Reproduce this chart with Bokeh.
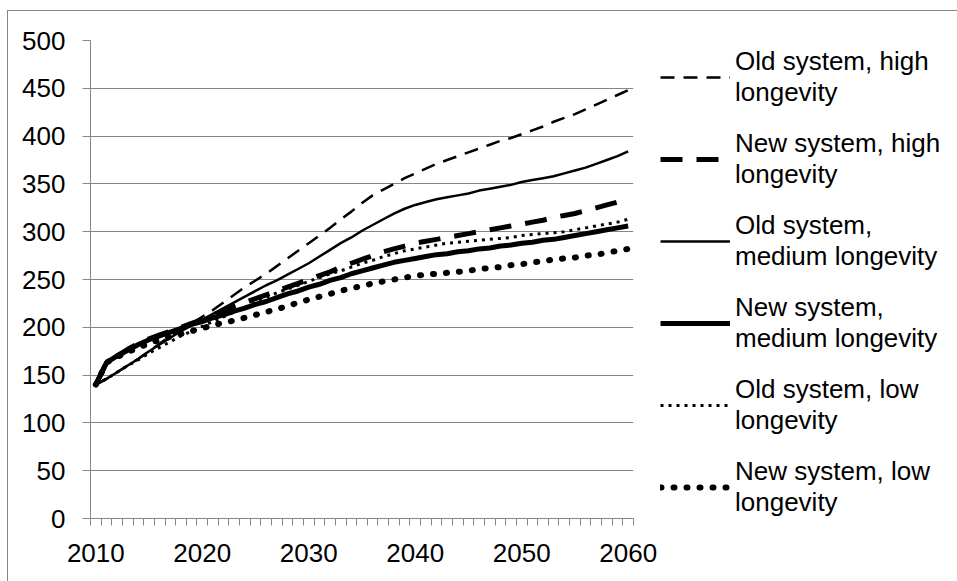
from bokeh.plotting import figure
from bokeh.layouts import row
from bokeh.models import Range1d, FixedTicker, Legend, LegendItem, ColumnDataSource
from bokeh.embed import file_html
from bokeh.resources import INLINE

years = list(range(2010, 2061))

old_high = [140, 146, 153, 160, 167, 175, 183, 191, 198, 204, 211, 218, 226, 234, 242, 249, 256, 264, 272, 280,
            288, 296, 304, 313, 321, 330, 338, 344, 350, 356, 361, 366, 371, 375, 379, 383, 387, 391, 395, 398,
            402, 406, 410, 415, 419, 423, 428, 433, 438, 443, 448]
new_high = [140, 163, 170, 177, 183, 188, 192, 196, 200, 204, 208, 213, 217, 222, 226, 230, 234, 238, 242, 246,
            250, 254, 258, 263, 267, 271, 275, 279, 282, 285, 288, 290, 292, 294, 296, 298, 300, 302, 304, 306,
            308, 310, 312, 315, 317, 319, 322, 325, 328, 331, 333]
old_medium = [140, 146, 153, 160, 167, 175, 182, 189, 196, 202, 208, 214, 220, 226, 232, 238, 244, 249, 255, 261,
              267, 274, 281, 288, 294, 301, 307, 313, 319, 324, 328, 331, 334, 336, 338, 340, 343, 345, 347, 349,
              352, 354, 356, 358, 361, 364, 367, 371, 375, 379, 384]
new_medium = [140, 163, 170, 176, 182, 187, 191, 195, 199, 203, 206, 210, 213, 217, 220, 224, 227, 231, 235, 238,
              242, 245, 249, 252, 256, 259, 262, 265, 268, 270, 272, 274, 276, 277, 279, 280, 282, 283, 285, 286,
              288, 289, 291, 292, 294, 296, 298, 300, 302, 304, 306]
old_low = [140, 146, 153, 160, 166, 173, 179, 185, 191, 196, 201, 206, 211, 216, 221, 226, 231, 236, 240, 244,
           248, 252, 256, 259, 263, 267, 270, 274, 277, 280, 282, 284, 286, 288, 289, 290, 291, 292, 293, 294,
           296, 297, 298, 299, 300, 302, 304, 306, 308, 310, 313]
new_low = [140, 163, 169, 174, 179, 183, 187, 190, 193, 196, 199, 202, 205, 207, 210, 213, 216, 219, 222, 226,
           229, 232, 235, 238, 241, 243, 246, 248, 250, 252, 254, 255, 256, 257, 258, 259, 261, 262, 263, 265,
           266, 268, 269, 271, 272, 273, 275, 276, 278, 280, 282]

labels = ["Old system, high\nlongevity", "New system, high\nlongevity", "Old system,\nmedium longevity",
          "New system,\nmedium longevity", "Old system, low\nlongevity", "New system, low\nlongevity"]
x_tick_values = [2010, 2020, 2030, 2040, 2050, 2060]
y_tick_values = [0, 50, 100, 150, 200, 250, 300, 350, 400, 450, 500]

GRID = "#868686"
FONT = "Liberation Sans"

p = figure(width=650, height=570, x_range=Range1d(2009.5, 2060.5), y_range=Range1d(0, 500),
           output_backend="svg", toolbar_location=None,
           min_border_left=82, min_border_right=25, min_border_top=29, min_border_bottom=63)
p.outline_line_color = None
p.background_fill_color = "white"
p.border_fill_color = "white"

p.xgrid.grid_line_color = None
p.ygrid.grid_line_color = GRID
p.ygrid.grid_line_width = 1
p.ygrid.ticker = FixedTicker(ticks=y_tick_values)

p.xaxis.ticker = FixedTicker(ticks=x_tick_values, minor_ticks=[y - 0.5 for y in years] + [2060.5])
p.xaxis.major_tick_out = 0
p.xaxis.major_tick_in = 0
p.xaxis.minor_tick_out = 7
p.xaxis.minor_tick_in = 0
p.xaxis.minor_tick_line_color = GRID
p.xaxis.axis_line_color = GRID
p.xaxis.major_label_standoff = 18

p.yaxis.ticker = FixedTicker(ticks=y_tick_values, minor_ticks=[])
p.yaxis.major_tick_out = 8
p.yaxis.major_tick_in = 0
p.yaxis.major_tick_line_color = GRID
p.yaxis.axis_line_color = GRID
p.yaxis.major_label_standoff = 17

for ax in (p.xaxis[0], p.yaxis[0]):
    ax.major_label_text_font = FONT
    ax.major_label_text_font_size = "26px"
    ax.major_label_text_color = "black"

src = ColumnDataSource(dict(year=years, old_high=old_high, new_high=new_high, old_medium=old_medium,
                            new_medium=new_medium, old_low=old_low, new_low=new_low))

styles = [
    ("old_high", dict(line_width=2.5, line_dash="14 9")),
    ("new_high", dict(line_width=5, line_dash="22 14")),
    ("old_medium", dict(line_width=2.5)),
    ("new_medium", dict(line_width=5)),
    ("old_low", dict(line_width=3, line_dash="3 5")),
    ("new_low", dict(line_width=6, line_dash="1 12", line_cap="round")),
]

# Legend panel: a separate, axis-less figure whose key glyphs share the series' styles
pl = figure(width=299, height=570, x_range=Range1d(0, 1), y_range=Range1d(0, 1), title=None,
            output_backend="svg", toolbar_location=None,
            min_border_left=0, min_border_right=0, min_border_top=7, min_border_bottom=0)
pl.axis.visible = False
pl.grid.visible = False
pl.outline_line_color = None
pl.border_fill_color = "white"

key_src = ColumnDataSource(dict(x=[5, 6], y=[5, 6]))  # outside the legend panel's view

items = []
for (col, st), lab in zip(styles, labels):
    p.line("year", col, source=src, line_color="black", **st)
    key = pl.line("x", "y", source=key_src, line_color="black", **st)
    items.append(LegendItem(label=lab, renderers=[key]))

legend = Legend(items=items, location=(2, 0))
legend.padding = 0
legend.margin = 0
legend.border_line_alpha = 0
legend.background_fill_alpha = 0
legend.glyph_width = 70
legend.glyph_height = 30
legend.label_standoff = 5
legend.spacing = 20
legend.label_text_line_height = 1.19
legend.label_text_font = FONT
legend.label_text_font_size = "26px"
legend.label_text_color = "black"
pl.add_layout(legend, "center")

layout = row(p, pl, spacing=0)
layout.margin = (10, 0, 0, 7)
layout.styles = {"border-left": "1px solid #868686", "border-top": "1px solid #868686"}

open("out.html", "w").write(file_html(layout, INLINE))
